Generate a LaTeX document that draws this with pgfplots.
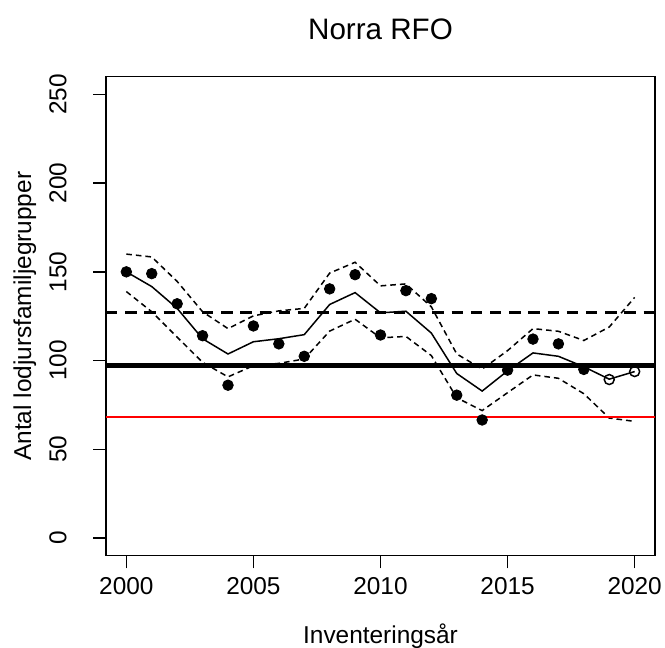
\documentclass[border=0pt]{standalone}
\usepackage{fontspec}
\setmainfont{Liberation Sans}
\usepackage{pgfplots}
\usepackage{pgfplotstable}
\pgfplotsset{compat=1.18}
\pgfplotstableread{
year obs trend upper lower
2000 150.0 150.0 160.0 138.9
2001 149.0 141.7 158.4 127.5
2002 132.0 129.4 144.6 113.2
2003 114.0 112.3 127.5 99.0
2004 86.1 103.7 118.0 90.8
2005 119.5 110.6 125.2 97.1
2006 109.4 112.3 128.0 98.4
2007 102.4 114.6 129.4 100.9
2008 140.4 131.6 149.3 116.6
2009 148.4 138.3 155.4 123.3
2010 114.4 126.9 142.1 112.8
2011 139.4 127.8 143.2 113.6
2012 134.9 115.5 130.3 102.8
2013 80.5 92.7 103.7 79.0
2014 66.5 82.8 95.2 71.8
2015 94.6 94.2 105.6 81.9
2016 112.1 104.3 118.0 91.9
2017 109.4 102.4 116.5 90.0
2018 95.0 96.5 111.3 81.3
2019 89.3 89.5 118.9 67.6
2020 93.8 93.8 135.6 65.7
}\datatab
\pgfplotstableread{
year obs
2000 150.0
2001 149.0
2002 132.0
2003 114.0
2004 86.1
2005 119.5
2006 109.4
2007 102.4
2008 140.4
2009 148.4
2010 114.4
2011 139.4
2012 134.9
2013 80.5
2014 66.5
2015 94.6
2016 112.1
2017 109.4
2018 95.0
}\filled
\pgfplotstableread{
year obs
2019 89.3
2020 93.8
}\open
\begin{document}
\fontsize{12.2bp}{14bp}\selectfont
\begin{tikzpicture}
\useasboundingbox (-53bp,-46.15bp) rectangle (279.5bp,277.85bp);
\begin{axis}[
  at={(0,0)}, anchor=south west,
  scale only axis, width=274.5bp, height=239.5bp,
  xmin=1999.2, xmax=2020.8, ymin=-10, ymax=260,
  xtick={2000,2005,...,2020}, ytick={0,50,...,250},
  tick align=outside, tick pos=left,
  major tick length=6.3bp,
  every tick/.style={black, line width=0.75bp},
  axis line style={line width=0.75bp},
  /pgf/number format/assume math mode=true,
  /pgf/number format/1000 sep={},
  tick label style={font=\fontsize{12.2bp}{14bp}\selectfont},
  xticklabel style={anchor=base, inner sep=0pt},
  yticklabel style={rotate=90, anchor=base, inner sep=0pt},
  xticklabel shift=13.15bp,
  yticklabel shift=13.5bp,
]
\addplot[black, line width=0.75bp, dash pattern=on 2.8bp off 2bp] table[x=year, y=upper] {\datatab};
\addplot[black, line width=0.75bp, dash pattern=on 2.8bp off 2bp] table[x=year, y=lower] {\datatab};
\addplot[black, line width=0.75bp] table[x=year, y=trend] {\datatab};
\addplot[only marks, mark=*, mark size=2.65bp, black] table[x=year, y=obs] {\filled};
\addplot[only marks, mark=o, mark size=2.5bp, black, mark options={fill=white, line width=0.75bp}] table[x=year, y=obs] {\open};
\addplot[red, line width=1.2bp] coordinates {(1999.2,68.2) (2020.8,68.2)};
\addplot[black, line width=2.2bp] coordinates {(1999.2,97.3) (2020.8,97.3)};
\addplot[black, line width=1.6bp, dash pattern=on 5.7bp off 3.9bp] coordinates {(1999.2,127.3) (2020.8,127.3)};
\end{axis}
\node[anchor=base, font=\fontsize{14.8bp}{17bp}\selectfont] at (137.25bp,257.85bp) {Norra RFO};
\node[anchor=base] at (137.25bp,-43.9bp) {Inventeringsår};
\node[anchor=base, rotate=90] at (-37.5bp,119.75bp) {Antal lodjursfamiljegrupper};
\end{tikzpicture}
\end{document}
